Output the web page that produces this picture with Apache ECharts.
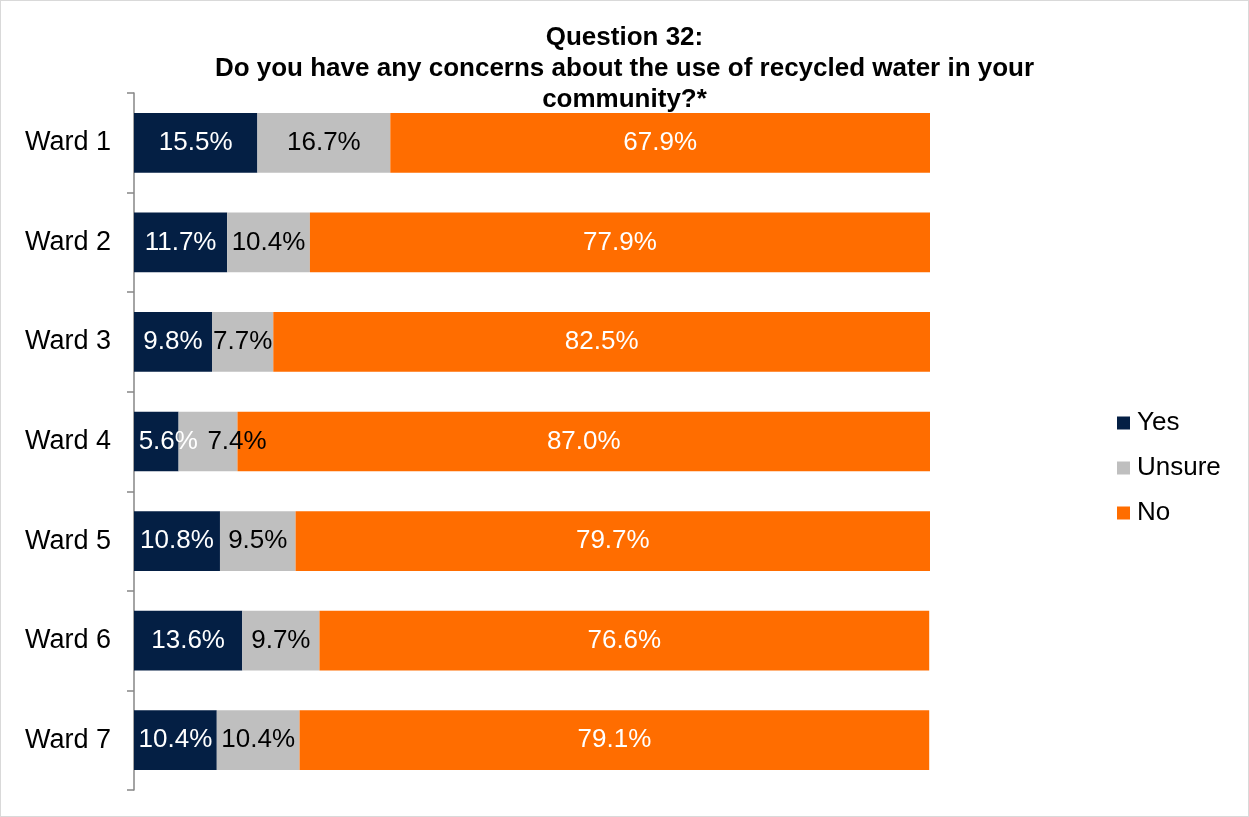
<!DOCTYPE html>
<html>
<head>
<meta charset="utf-8">
<script src="https://cdn.jsdelivr.net/npm/echarts@6/dist/echarts.min.js"></script>
<style>
  html, body { margin: 0; padding: 0; background: #fff; }
  #chart { width: 1247px; height: 815px; border: 1px solid #d9d9d9; }
</style>
</head>
<body>
<div id="chart"></div>
<script>
// Wards shown top to bottom
const wards = ['Ward 1', 'Ward 2', 'Ward 3', 'Ward 4', 'Ward 5', 'Ward 6', 'Ward 7'];
// Percent of respondents per answer
const yesValues = [15.5, 11.7, 9.8, 5.6, 10.8, 13.6, 10.4];
const unsureValues = [16.7, 10.4, 7.7, 7.4, 9.5, 9.7, 10.4];
const noValues = [67.9, 77.9, 82.5, 87.0, 79.7, 76.6, 79.1];

const FONT = 'Liberation Sans, Arial, sans-serif';

// Narrow segments push their labels right so they don't collide
const labelNudge = { Yes: { 3: 12 }, Unsure: { 3: 29 } };

function seriesFor(name, values, color, labelColor) {
  const nudge = labelNudge[name] || {};
  return {
    name: name,
    type: 'bar',
    stack: 'total',
    barWidth: '60%',
    data: values.map((v, i) => nudge[i] !== undefined
      ? { value: v, label: { offset: [nudge[i], 0] } }
      : v),
    itemStyle: { color: color },
    label: {
      show: true,
      position: 'inside',
      color: labelColor,
      fontFamily: FONT,
      fontSize: 26,
      formatter: p => p.value.toFixed(1) + '%'
    },
    emphasis: { disabled: true }
  };
}

const chart = echarts.init(document.getElementById('chart'), null, { renderer: 'canvas' });
chart.setOption({
  animation: false,
  backgroundColor: '#ffffff',
  title: {
    text: 'Question 32:\nDo you have any concerns about the use of recycled water in your\ncommunity?*',
    left: 'center',
    top: 16,
    textStyle: {
      fontFamily: FONT,
      fontSize: 26,
      fontWeight: 'bold',
      color: '#000',
      lineHeight: 31
    }
  },
  legend: {
    orient: 'vertical',
    left: 1111,
    top: 404,
    itemWidth: 13,
    itemHeight: 13,
    itemGap: 19,
    icon: 'rect',
    textStyle: { fontFamily: FONT, fontSize: 26, color: '#000', padding: [0, 0, 0, 2] },
    data: ['Yes', 'Unsure', 'No']
  },
  grid: { left: 133, right: 318, top: 92, bottom: 26, containLabel: false },
  xAxis: {
    type: 'value',
    min: 0,
    max: 100,
    show: false
  },
  yAxis: {
    type: 'category',
    inverse: true,
    data: wards,
    axisLine: { show: true, lineStyle: { color: '#868686', width: 1.5 } },
    axisTick: { show: true, length: 7, lineStyle: { color: '#868686', width: 1.5 } },
    axisLabel: { margin: 23, color: '#000', fontFamily: FONT, fontSize: 27 },
    splitLine: { show: false }
  },
  series: [
    seriesFor('Yes', yesValues, '#041f44', '#ffffff'),
    seriesFor('Unsure', unsureValues, '#bfbfbf', '#000000'),
    seriesFor('No', noValues, '#ff6d00', '#ffffff')
  ]
});
</script>
</body>
</html>
